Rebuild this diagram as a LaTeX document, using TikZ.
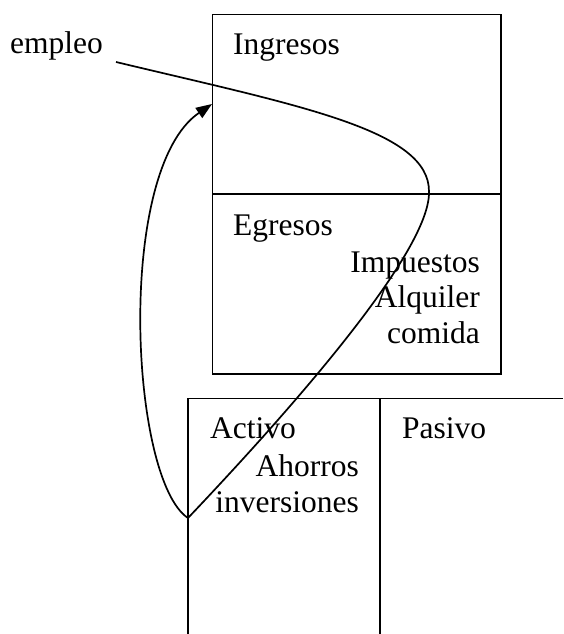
\documentclass[tikz,border=0pt]{standalone}
\usepackage{fontspec}
\setmainfont{Liberation Serif}
\usetikzlibrary{arrows.meta}
\begin{document}
\begin{tikzpicture}[x=1pt,y=-1pt,
  frame/.style={draw, line width=1.9pt},
  lbl/.style={inner sep=0pt, font=\fontsize{31.5}{35.5}\selectfont},
  flow/.style={line width=1.7pt}]
\useasboundingbox (0,0) rectangle (563,634);
% top box: Ingresos / Egresos
\draw[frame] (212.5,14.5) rectangle (501,194);
\draw[frame] (212.5,194) rectangle (501,374);
% bottom T-account: Activo / Pasivo
\draw[frame] (563,398.5) -- (188,398.5) -- (188,634);
\draw[frame] (380,398.5) -- (380,634);
% labels
\node[lbl, anchor=base west] (empleo) at (10,53) {empleo};
\node[lbl, anchor=base west] (ingresos) at (233,55) {Ingresos};
\node[lbl, anchor=base west] (egresos) at (233,235) {Egresos};
\node[lbl, anchor=base east] (impuestos) at (480,272) {Impuestos};
\node[lbl, anchor=base east] (alquiler) at (480,307) {Alquiler};
\node[lbl, anchor=base east] (comida) at (480,343) {comida};
\node[lbl, anchor=base west] (activo) at (210,438) {Activo};
\node[lbl, anchor=base east] (ahorros) at (359,476) {Ahorros};
\node[lbl, anchor=base east] (inversiones) at (359,512) {inversiones};
\node[lbl, anchor=base west] (pasivo) at (402,438) {Pasivo};
% flow curve
\coordinate (e0) at (116,62);
\coordinate (e1) at (429,192);
\coordinate (e2) at (188,518);
\coordinate (e3) at (212,104);
\draw[flow, -{Triangle[length=16pt,width=12pt]}] (e0)
  .. controls (300,106) and (430,130) .. (e1)
  .. controls (430,250) and (300,400) .. (e2)
  .. controls (130,480) and (115,170) .. (e3);
\end{tikzpicture}
\end{document}
